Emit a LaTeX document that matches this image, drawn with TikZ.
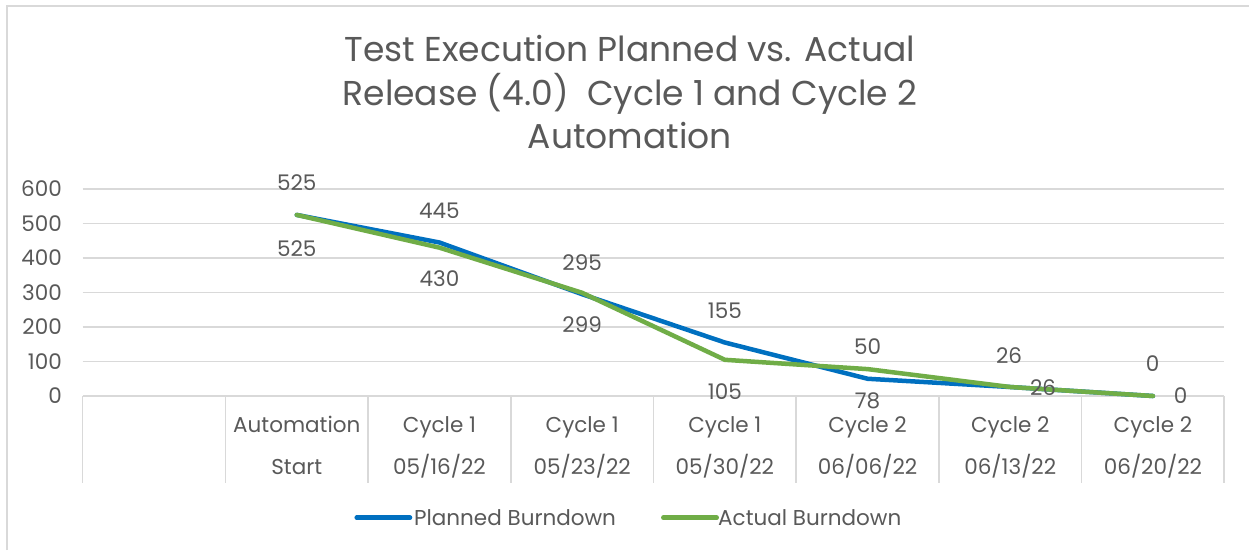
\documentclass[tikz,border=0pt]{standalone}
\usepackage{fontspec}
\setmainfont{Poppins}
\definecolor{txt}{HTML}{595959}
\definecolor{grid}{HTML}{D9D9D9}
\definecolor{planc}{HTML}{0070C0}
\definecolor{actc}{HTML}{70AD47}
\tikzset{
  gridline/.style={draw=grid,line width=1.5pt},
  lbl/.style={text=txt,font=\fontsize{21.5}{24}\selectfont,inner sep=0pt,text height=15pt,text depth=0pt},
  ttl/.style={text=txt,font=\fontsize{34.5}{40}\selectfont,inner sep=0pt,text height=24pt,text depth=0pt},
  series/.style={line width=4.5pt,line join=round,line cap=round},
}
\begin{document}
\begin{tikzpicture}[x=1pt,y=-1pt]
\useasboundingbox (0,0) rectangle (1249,550);
\fill[white] (0,0) rectangle (1249,550);
% outer border
\draw[draw=grid,line width=2pt] (7,550) -- (7,6) -- (1249,6);
% title
\node[ttl] (t1) at (630,49) {Test Execution Planned vs. Actual};
\node[ttl] (t2) at (630,93) {Release (4.0)\ \ Cycle 1 and Cycle 2};
\node[ttl] (t3) at (630,136) {Automation};
% grid
\foreach \v/\yy in {0/396,100/361.5,200/327,300/292.5,400/258,500/223.5,600/189}{
  \draw[gridline] (82.7,\yy) -- (1224,\yy);
  \node[lbl,anchor=east] (y\v) at (62,\yy) {\v};
}
% category table
\foreach \xx in {82.7,225.4,368.1,510.8,653.5,796.2,938.9,1081.6,1224}{
  \draw[gridline] (\xx,396) -- (\xx,483);
}
\foreach \i/\xx/\a/\b in {1/296.75/Automation/Start,2/439.45/Cycle 1/05\slash 16\slash 22,3/582.15/Cycle 1/05\slash 23\slash 22,4/724.85/Cycle 1/05\slash 30\slash 22,5/867.55/Cycle 2/06\slash 06\slash 22,6/1010.25/Cycle 2/06\slash 13\slash 22,7/1152.95/Cycle 2/06\slash 20\slash 22}{
  \node[lbl] (ca\i) at (\xx,425) {\a};
  \node[lbl] (cb\i) at (\xx,467) {\b};
}
% data points
\coordinate (p1) at (296.75,214.9);
\coordinate (p2) at (439.45,242.5);
\coordinate (p3) at (582.15,294.2);
\coordinate (p4) at (724.85,342.5);
\coordinate (p5) at (867.55,378.75);
\coordinate (p6) at (1010.25,387.0);
\coordinate (p7) at (1152.95,396);
\coordinate (a1) at (296.75,214.9);
\coordinate (a2) at (439.45,247.65);
\coordinate (a3) at (582.15,292.8);
\coordinate (a4) at (724.85,359.8);
\coordinate (a5) at (867.55,369.1);
\coordinate (a6) at (1010.25,387.0);
\coordinate (a7) at (1152.95,396);
\draw[series,planc] (p1) -- (p2) -- (p3) -- (p4) -- (p5) -- (p6) -- (p7);
\draw[series,actc] (a1) -- (a2) -- (a3) -- (a4) -- (a5) -- (a6) -- (a7);
% data labels planned
\node[lbl] (lp1) at (296.75,183) {525};
\node[lbl] (lp2) at (439.45,211) {445};
\node[lbl] (lp3) at (582.15,262.5) {295};
\node[lbl] (lp4) at (724.85,311) {155};
\node[lbl] (lp5) at (867.55,347) {50};
\node[lbl] (lp6) at (1009,356) {26};
\node[lbl] (lp7) at (1152.7,363.5) {0};
% data labels actual
\node[lbl] (la1) at (296.75,249) {525};
\node[lbl] (la2) at (439.45,279) {430};
\node[lbl] (la3) at (582.15,325) {299};
\node[lbl] (la4) at (724.85,392) {105};
\node[lbl] (la5) at (867.55,400.5) {78};
\node[lbl] (la6) at (1043,388) {26};
\node[lbl] (la7) at (1180.7,396) {0};
% legend
\coordinate (lg1a) at (356.7,517.7);
\coordinate (lg1b) at (410,517.7);
\coordinate (lg2a) at (663.3,517.7);
\coordinate (lg2b) at (716.7,517.7);
\draw[planc,line width=4.5pt,line cap=round] (lg1a) -- (lg1b);
\node[lbl,anchor=west] (lt1) at (414,517.7) {Planned Burndown};
\draw[actc,line width=4.5pt,line cap=round] (lg2a) -- (lg2b);
\node[lbl,anchor=west] (lt2) at (718,517.7) {Actual Burndown};
\end{tikzpicture}
\end{document}
